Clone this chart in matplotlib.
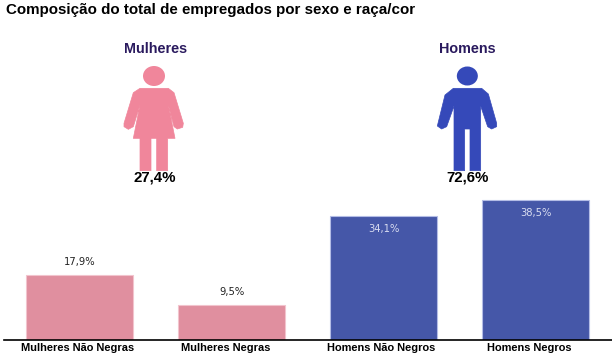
import matplotlib
matplotlib.use("Agg")
import matplotlib.pyplot as plt
from matplotlib.patches import Ellipse, Polygon
from matplotlib.transforms import ScaledTranslation

plt.rcParams['font.family'] = ['Liberation Sans', 'DejaVu Sans']

# Dados
categorias = ['Mulheres Não Negras', 'Mulheres Negras', 'Homens Não Negros', 'Homens Negros']
valores = [17.9, 9.5, 34.1, 38.5]
rotulos = ['17,9%', '9,5%', '34,1%', '38,5%']
grupos = ['Mulheres', 'Homens']
totais = ['27,4%', '72,6%']

ROSA_BARRA = '#E08F9F'
AZUL_BARRA = '#4557A8'
ROSA_ICONE = '#F0869B'
AZUL_ICONE = '#3549B9'
W, H = 612, 360

fig = plt.figure(figsize=(W / 100, H / 100), dpi=100)

# Barras
ax = fig.add_axes([3.5 / W, 20 / H, 608 / W, 145 / H])
cores = [ROSA_BARRA, ROSA_BARRA, AZUL_BARRA, AZUL_BARRA]
bordas = ['#F2C4CD', '#F2C4CD', '#B4BDE6', '#B4BDE6']
ax.bar(range(4), valores, width=0.704, color=cores, edgecolor=bordas, linewidth=0.8)
ax.set_xlim(-0.5, 3.5)
ax.set_ylim(0, 145 / 3.636)
for s in ['top', 'left', 'right']:
    ax.spines[s].set_visible(False)
ax.spines['bottom'].set_linewidth(1.2)
ax.set_yticks([])
ax.set_xticks(range(4))
ax.set_xticklabels(categorias, fontsize=7.9, fontweight='bold')
ax.tick_params(axis='x', length=0, pad=2)

# os rótulos do eixo não ficam bem centrados no original
for lab, dx in zip(ax.get_xticklabels(), [-2, -6, -2, -6.5]):
    lab.set_transform(lab.get_transform() + ScaledTranslation(dx / 100, 0, fig.dpi_scale_trans))

for i, (v, r) in enumerate(zip(valores, rotulos)):
    if i < 2:
        ax.annotate(r, (i, v), xytext=(0, 6), textcoords='offset points', ha='center', va='bottom',
                    fontsize=7.2, color='#222222', family=['DejaVu Sans'])
    else:
        ax.annotate(r, (i, v), xytext=(0, -6), textcoords='offset points', ha='center', va='top',
                    fontsize=7.2, color='#D8DCF0', family=['DejaVu Sans'])

# Camada em pixels para os ícones
ov = fig.add_axes([0, 0, 1, 1])
ov.set_xlim(0, W)
ov.set_ylim(H, 0)
ov.axis('off')
ov.patch.set_alpha(0)


def zoom_pts(pts, x0):
    return [(x0 + px / 3, 30 + py / 3) for px, py in pts]


mulher = [(120, 175), (205, 175), (222, 188), (250, 280), (248, 292), (232, 297), (222, 290),
          (205, 225), (225, 325), (203, 325), (203, 422), (170, 422), (170, 325), (153, 325),
          (153, 422), (120, 422), (120, 325), (100, 325), (120, 225), (100, 290), (85, 298),
          (72, 290), (72, 280), (100, 188)]
homem = [(115, 175), (200, 175), (220, 192), (245, 280), (245, 290), (230, 297), (218, 290),
         (197, 228), (197, 422), (165, 422), (165, 297), (149, 297), (149, 422), (117, 422),
         (117, 228), (95, 290), (80, 297), (67, 288), (90, 195)]

ov.add_patch(Polygon(zoom_pts(mulher, 100), closed=True, fc=ROSA_ICONE, ec=ROSA_ICONE, lw=0.5, joinstyle='round'))
ov.add_patch(Ellipse((100 + 162 / 3, 30 + 138 / 3), 22, 20, fc=ROSA_ICONE, ec='none'))
ov.add_patch(Polygon(zoom_pts(homem, 415), closed=True, fc=AZUL_ICONE, ec=AZUL_ICONE, lw=0.5, joinstyle='round'))
ov.add_patch(Ellipse((415 + 157 / 3, 30 + 138 / 3), 21, 19, fc=AZUL_ICONE, ec='none'))

for x, tx, g, t in zip([155.5, 467], [154.5, 467.5], grupos, totais):
    ov.text(x, 49, g, ha='center', va='center', fontsize=10.4, fontweight='bold', color='#2A1A5E')
    ov.text(tx, 178, t, ha='center', va='center', fontsize=10.8, fontweight='bold', color='black')

ov.text(6, 10, 'Composição do total de empregados por sexo e raça/cor', ha='left', va='center',
        fontsize=10.9, fontweight='bold', color='black')

fig.savefig('out.png', dpi=100)
